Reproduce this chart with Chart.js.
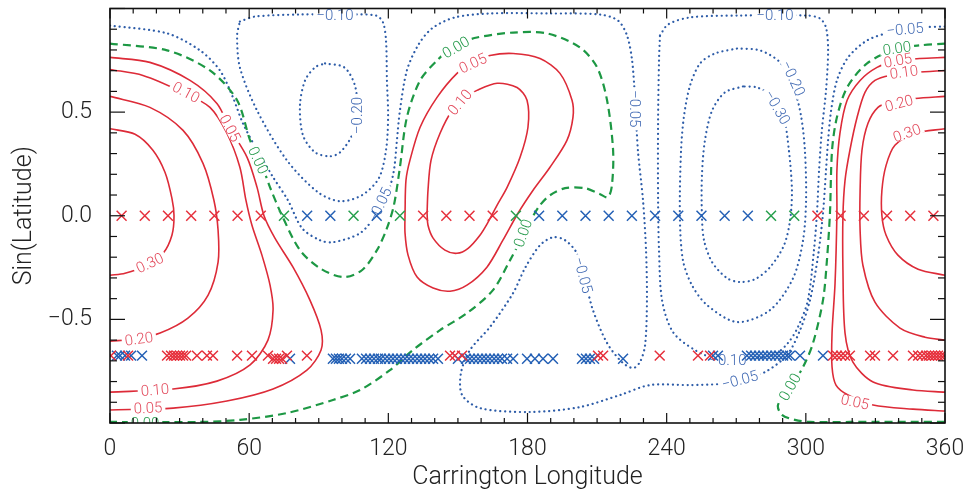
<!DOCTYPE html>
<html>
<head>
<meta charset="utf-8">
<script src="https://cdn.jsdelivr.net/npm/chart.js@4.4.0/dist/chart.umd.min.js"></script>
<style>
  html, body { margin: 0; padding: 0; background: #fff; }
</style>
</head>
<body>
<canvas id="myChart" width="967" height="493"></canvas>
<script>
// axis ticks
const lonTicks = [0, 60, 120, 180, 240, 300, 360];
const latTicks = [-0.5, 0, 0.5];

// contour lines, points are [longitude, sin(latitude)]
// positive lobe at the left edge (wraps round to the right edge)
const c030L = [[0,0.42],[10.8,0.393],[18.5,0.316],[23.7,0.21],[26.7,0.084],[27.6,0],[26.7,-0.094],[22.9,-0.181],[15.1,-0.243],[6.5,-0.277],[0,-0.287]];
const c030R = [[360,0.42],[347.1,0.398],[338.4,0.34],[334.6,0.243],[332.8,0.123],[332.8,0],[334.6,-0.094],[339.7,-0.19],[348.4,-0.258],[360,-0.287]];
const c020L = [[0,0.576],[17.2,0.523],[31.5,0.412],[40.1,0.253],[44.8,0.075],[46.6,-0.07],[46.6,-0.224],[42.3,-0.383],[33.6,-0.494],[21.6,-0.566],[10.8,-0.595],[0,-0.605]];
const c020R = [[360,0.576],[347.1,0.566],[336.3,0.547],[331.1,0.523],[326.8,0.446],[324.2,0.316],[323.4,0.123],[323.4,-0.07],[324.6,-0.239],[329.8,-0.417],[340.6,-0.542],[351.4,-0.586],[360,-0.6]];
const c010L = [[0,0.706],[14.2,0.677],[31.5,0.595],[43.1,0.523],[50.4,0.398],[56,0.234],[58.6,0.075],[61.2,-0.046],[65.5,-0.19],[69,-0.335],[70.3,-0.455],[68.1,-0.6],[60.4,-0.72],[46.1,-0.798],[27.2,-0.836],[0,-0.851]];
const c010R = [[360,0.701],[347.9,0.692],[336.3,0.677],[329.8,0.653],[325.5,0.595],[322.1,0.475],[319,0.316],[316.9,0.171],[316,0],[316,-0.263],[316.9,-0.566],[320.3,-0.706],[329,-0.802],[346.2,-0.841],[360,-0.851]];
const c005L = [[0,0.764],[17.2,0.74],[34.5,0.653],[46.1,0.542],[51.7,0.422],[59.1,0.282],[63.4,0.137],[66.4,0],[71.1,-0.108],[78.9,-0.248],[86.2,-0.407],[91,-0.552],[91,-0.648],[84.9,-0.745],[70.3,-0.836],[50.4,-0.894],[27.2,-0.928],[0,-0.937]];
const c005R = [[360,0.764],[349.2,0.759],[338.4,0.745],[330.7,0.716],[323.4,0.653],[317.8,0.557],[314.7,0.398],[313.4,0.219],[313.4,0.012],[312.6,-0.325],[311.3,-0.566],[311.3,-0.73],[313,-0.817],[318.2,-0.865],[329,-0.913],[346.2,-0.933],[360,-0.942]];

// positive lobe in the middle
const c005M = [[127.2,0.012],[127.6,0.171],[129.3,0.267],[133.7,0.427],[141,0.571],[149.6,0.687],[156.5,0.74],[163.8,0.773],[173.8,0.783],[185.4,0.759],[194,0.687],[199.2,0.557],[199.6,0.475],[197,0.364],[189.7,0.234],[182.4,0.123],[175.9,0.012],[169.4,-0.118],[162.5,-0.248],[153.9,-0.335],[146.6,-0.364],[139.3,-0.349],[132.4,-0.296],[128.5,-0.19],[127.2,-0.084],[127.2,0.012]];
const c010M = [[136.7,0.012],[137.1,0.123],[138.4,0.267],[142.3,0.398],[147.5,0.508],[153.1,0.571],[158.2,0.605],[166.9,0.639],[175.5,0.619],[179.8,0.557],[180.2,0.427],[176.8,0.282],[171.2,0.137],[166.9,0.051],[163,-0.031],[159.5,-0.094],[154.4,-0.157],[149.6,-0.181],[144.4,-0.166],[139.3,-0.108],[137.1,-0.046],[136.7,0.012]];

// zero lines
const c000A = [[0,0.831],[24.6,0.798],[43.1,0.701],[54.8,0.557],[60.4,0.364],[65.5,0.243],[69,0.137],[74.2,0],[81.9,-0.166],[90.5,-0.253],[100.5,-0.296],[108.6,-0.263],[115.1,-0.166],[119.4,-0.06],[122.4,0.051],[125,0.234],[128,0.475],[133.7,0.653],[141,0.749],[148.7,0.822],[158.2,0.86],[173.8,0.884],[188.4,0.88],[202.6,0.812],[210,0.716],[214.3,0.557],[216.9,0.316],[216.4,0.147],[214.7,0.089],[211.3,0.104],[204.8,0.133],[196.2,0.133],[189.7,0.099],[185.4,0.051],[181.9,-0.012],[178.1,-0.094],[172.5,-0.214],[165.1,-0.359],[153.9,-0.47],[142.3,-0.552],[130.6,-0.648],[120.7,-0.745],[107.8,-0.841],[96.1,-0.889],[76.3,-0.952],[56,-0.985],[38.8,-0.995],[0,-0.995]];
const c000B = [[360,0.831],[349.2,0.822],[339.3,0.807],[326.4,0.735],[317.8,0.619],[313.4,0.475],[311.3,0.316],[310.4,0.012],[309.1,-0.214],[307.4,-0.407],[303.1,-0.614],[298.8,-0.73],[293.2,-0.831],[288,-0.913],[289.7,-0.961],[295.3,-0.985],[301.8,-0.995],[319,-0.995],[360,-0.995]];

// negative regions
const c005nA = [[0,0.918],[24.6,0.88],[38.8,0.798],[47.4,0.701],[53,0.571],[57.3,0.446],[63.4,0.316],[70.3,0.186],[76.7,0.075],[82.8,-0.06],[90.5,-0.118],[96.1,-0.128],[107.8,-0.084],[115.1,0.012],[119.9,0.113],[122.4,0.219],[123.7,0.364],[125,0.508],[128,0.701],[132.8,0.822],[138.8,0.904],[148.7,0.957],[163.8,0.976],[189.7,0.976],[211.3,0.971],[219,0.942],[222.9,0.87],[225.1,0.749],[226.4,0.557],[227.6,0.316],[229.8,0.075],[231.1,-0.166],[231.5,-0.407],[230.7,-0.624],[228.5,-0.706],[225.5,-0.735],[220.7,-0.706],[214.3,-0.614],[208.2,-0.455],[204.8,-0.311],[201.3,-0.181],[196.2,-0.118],[191,-0.104],[185.4,-0.142],[178.9,-0.253],[173.8,-0.373],[163.8,-0.537],[155.2,-0.648],[151.3,-0.759],[151.8,-0.865],[159.5,-0.928],[181.1,-0.947],[202.6,-0.923],[219.9,-0.865],[232.8,-0.817],[250.1,-0.817],[263,-0.812],[271.6,-0.798],[282.4,-0.754],[291.9,-0.672],[297.5,-0.552],[301.8,-0.407],[305.3,-0.19],[307.4,0.012],[308.7,0.219],[309.6,0.364],[310.9,0.508],[313.4,0.653],[318.2,0.764],[326.4,0.846],[336.3,0.884],[349.2,0.908],[360,0.913]];
const c010nL = [[56,0.937],[62.5,0.961],[81.9,0.971],[103.5,0.971],[114.7,0.966],[117.7,0.933],[119,0.846],[119.4,0.653],[119.9,0.475],[119,0.316],[115.9,0.181],[108.6,0.099],[99.2,0.07],[89.7,0.113],[76.3,0.267],[63.4,0.508],[56,0.716],[54.8,0.87],[56,0.937]];
const c020nL = [[92.7,0.735],[101,0.716],[105.6,0.629],[106.5,0.508],[104.3,0.388],[99.2,0.306],[94.9,0.287],[88.4,0.306],[83.2,0.388],[81.9,0.533],[84.1,0.653],[88.4,0.716],[92.7,0.735]];
const c010nR = [[237.1,0.87],[240.6,0.923],[250.1,0.957],[271.6,0.966],[300.5,0.966],[306.1,0.952],[308.7,0.908],[309.6,0.798],[308.7,0.605],[306.9,0.412],[305.7,0.219],[304.8,0.012],[303.5,-0.166],[300.9,-0.407],[296.6,-0.537],[292.3,-0.614],[286.7,-0.667],[273.8,-0.692],[263,-0.696],[252.2,-0.648],[242.7,-0.561],[238,-0.407],[236.7,-0.166],[236.3,0.075],[236.3,0.46],[236.7,0.749],[237.1,0.87]];
const c020nR = [[270.3,0.807],[260.8,0.783],[254.4,0.735],[250.1,0.629],[247.5,0.484],[246.2,0.316],[245.7,0],[247,-0.214],[250.9,-0.335],[257.4,-0.431],[270.3,-0.513],[284.6,-0.455],[294.5,-0.301],[298.8,-0.118],[300.1,0.075],[299.6,0.316],[297.9,0.484],[294.5,0.629],[288.9,0.74],[280.2,0.798],[270.3,0.807]];
const c030nR = [[272.9,0.624],[265.1,0.595],[259.6,0.508],[256.5,0.364],[255.2,0.195],[255.2,0],[256.1,-0.118],[259.6,-0.224],[266,-0.301],[271.6,-0.32],[278.1,-0.306],[284.6,-0.248],[290.6,-0.142],[293.2,-0.022],[294,0.123],[292.7,0.316],[290.2,0.484],[284.6,0.581],[279,0.619],[272.9,0.624]];

const contourLines = [
  { level: 0.30, pts: c030L }, { level: 0.30, pts: c030R },
  { level: 0.20, pts: c020L }, { level: 0.20, pts: c020R },
  { level: 0.10, pts: c010L }, { level: 0.10, pts: c010R },
  { level: 0.05, pts: c005L }, { level: 0.05, pts: c005R },
  { level: 0.05, pts: c005M }, { level: 0.10, pts: c010M },
  { level: 0.00, pts: c000A }, { level: 0.00, pts: c000B },
  { level: -0.05, pts: c005nA },
  { level: -0.10, pts: c010nL }, { level: -0.20, pts: c020nL },
  { level: -0.10, pts: c010nR }, { level: -0.20, pts: c020nR }, { level: -0.30, pts: c030nR }
];

// inline level labels: text, lon, sin(lat), angle in degrees
const contourLabels = [
  ['0.10', 32.8, 0.595, 28], ['0.05', 51.7, 0.422, 62], ['0.00', 63.8, 0.267, 65],
  ['0.30', 17.2, -0.229, -25], ['0.20', 12.5, -0.595, -8], ['0.10', 19.4, -0.841, -5],
  ['0.05', 16.4, -0.928, -3], ['0.00', 15.1, -1.0, 0],
  ['0.05', 156.5, 0.735, -25], ['0.10', 150.9, 0.547, -50], ['0.00', 149.2, 0.812, -30],
  ['0.00', 178.1, -0.084, -70],
  ['0.05', 339.7, 0.749, -10], ['0.10', 342.3, 0.692, -8], ['0.20', 340.2, 0.542, -15],
  ['0.30', 343.6, 0.398, -20], ['0.05', 321.2, -0.899, 12],
  ['0.00', 339.3, 0.807, -8], ['0.00', 293.2, -0.827, -60],
  ['-0.10', 97.0, 0.966, 0], ['-0.20', 106.5, 0.484, -90], ['-0.05', 116.4, 0.051, -65],
  ['-0.05', 226.4, 0.516, 90], ['-0.05', 203.9, -0.287, 75],
  ['-0.10', 286.7, 0.966, 0], ['-0.20', 294.5, 0.663, 65], ['-0.30', 287.6, 0.523, 60],
  ['-0.05', 342.8, 0.899, -5], ['-0.05', 271.6, -0.793, -15], ['-0.10', 266.4, -0.696, 0]
];

// spot positions along the equator
const eqLat = 0;
const eqRedLon = [5,15,25,35,45,55,65,135,145,155,165,305,315,325,335,345,355];
const eqGreenLon = [75,105,125,175,285,295];
const eqBlueLon = [85,95,115,185,195,205,215,225,235,245,255,265,275];

// spot positions in the southern band
const southLatA = -0.675;
const southLatB = -0.69;
const southRedA = [0.4,7.8,24.6,26.3,27.6,28.9,30.2,31.5,32.8,37.5,41.8,44.4,54.8,61.2,68.1,76.3,84.9,146.6,148.7,151.8,210.4,212.6,237,253.5,258.7,311.7,313.4,315.2,316.9,319,327.7,329.8,337.6,346.2,348.4,350.1,351.8,353.1,354.4,355.7,357,358.3,359.6];
const southRedB = [70.3,71.6,72.9,74.2];
const southBlueA = [3,4.3,6.5,9.1,13.8,260,262.1,274.6,276.4,278.1,279.8,281.6,283.3,285,286.8,288.4,290.2,291.9,293.2,297.5,307.4];
const southBlueB = [77.6,96.1,97.4,98.7,100,101.7,103.5,108.6,110.4,112.1,113.8,115.5,116.8,118.6,120.3,122,123.7,125.5,127.2,128.9,130.6,132.4,134.1,135.8,137.6,139.3,141.4,150,153.5,155.2,156.9,158.7,160.4,162.1,163.8,165.6,167.3,169,171.2,173.8,179.8,183.2,186.7,191,203.5,205.2,206.9,208.7,221.2];

const RED = '#dd2b38', BLUE = '#2d5ca8', GREEN = '#1d9844';
const RED_TXT = '#e2485a', BLUE_TXT = '#4069b3', GREEN_TXT = '#24994a';
const MK_RED = '#e6303c', MK_BLUE = '#2460b5', MK_GREEN = '#27a04d';
const FONT = 'Roboto';

function lineStyle(level) {
  if (level > 0) return { borderColor: RED, borderWidth: 1.6, borderDash: [], borderCapStyle: 'butt' };
  if (level === 0) return { borderColor: GREEN, borderWidth: 2.2, borderDash: [8, 5], borderCapStyle: 'butt' };
  return { borderColor: BLUE, borderWidth: 2.2, borderDash: [0.1, 4.8], borderCapStyle: 'round' };
}

const datasets = [];
contourLines.forEach(c => {
  datasets.push(Object.assign({
    data: c.pts.map(p => ({ x: p[0], y: p[1] })),
    showLine: true, fill: false, pointRadius: 0, tension: 0.3, order: 1
  }, lineStyle(c.level)));
});

function spots(lons, lat, color) {
  return {
    data: lons.map(v => ({ x: v, y: lat })),
    showLine: false, pointStyle: 'crossRot', pointRadius: 7,
    pointBorderColor: color, pointBackgroundColor: color, pointBorderWidth: 1.5,
    order: 0, isMarker: true
  };
}
datasets.push(spots(eqRedLon, eqLat, MK_RED));
datasets.push(spots(eqGreenLon, eqLat, MK_GREEN));
datasets.push(spots(eqBlueLon, eqLat, MK_BLUE));
datasets.push(spots(southRedA, southLatA, MK_RED));
datasets.push(spots(southRedB, southLatB, MK_RED));
datasets.push(spots(southBlueA, southLatA, MK_BLUE));
datasets.push(spots(southBlueB, southLatB, MK_BLUE));

function fmtLat(v) {
  if (v === 0) return '0.0';
  return (v < 0 ? '\u2212' : '') + Math.abs(v).toFixed(1);
}

let labelsDone = false;

function drawContourLabels(chart) {
  const { ctx, chartArea: a, scales: { x, y } } = chart;
  ctx.save();
  ctx.beginPath();
  ctx.rect(a.left, a.top, a.right - a.left, a.bottom - a.top);
  ctx.clip();
  ctx.font = '300 15px ' + FONT;
  ctx.textAlign = 'center';
  ctx.textBaseline = 'middle';
  contourLabels.forEach(l => {
    const txt = l[0].replace('-', '\u2212');
    const v = parseFloat(l[0]);
    const col = v > 0 ? RED_TXT : (v < 0 ? BLUE_TXT : GREEN_TXT);
    ctx.save();
    ctx.translate(x.getPixelForValue(l[1]), y.getPixelForValue(l[2]));
    ctx.rotate(l[3] * Math.PI / 180);
    const w = ctx.measureText(txt).width;
    ctx.fillStyle = '#fff';
    ctx.fillRect(-w / 2 - 3, -5, w + 6, 10);
    ctx.fillStyle = col;
    ctx.fillText(txt, 0, 1);
    ctx.restore();
  });
  ctx.restore();
}

function drawFrame(chart) {
  const { ctx, chartArea: a, scales: { x, y } } = chart;
  const seg = (x1, y1, x2, y2) => { ctx.beginPath(); ctx.moveTo(x1, y1); ctx.lineTo(x2, y2); ctx.stroke(); };
  ctx.save();
  ctx.strokeStyle = '#111';
  ctx.lineWidth = 1.2;
  for (let i = 0; i <= 36; i++) {
    const px = x.getPixelForValue(i * 10);
    const len = i % 6 === 0 ? 10 : 5;
    seg(px, a.bottom, px, a.bottom - len);
    seg(px, a.top, px, a.top + len);
  }
  for (let i = -10; i <= 10; i++) {
    const py = y.getPixelForValue(i / 10);
    const len = i % 5 === 0 ? 15 : 7;
    seg(a.left, py, a.left + len, py);
    seg(a.right, py, a.right - len, py);
  }
  ctx.lineWidth = 1.6;
  ctx.strokeRect(a.left, a.top, a.right - a.left, a.bottom - a.top);
  ctx.restore();
}

const framePlugin = {
  id: 'frame',
  beforeDraw() { labelsDone = false; },
  beforeDatasetDraw(chart, args) {
    const ds = chart.data.datasets[args.index];
    if (ds.isMarker && !labelsDone) {
      drawContourLabels(chart);
      labelsDone = true;
    }
  },
  afterDatasetsDraw(chart) { drawFrame(chart); }
};

// keep the plot box fixed: no extra room for edge tick labels
function noEdgePadding(s) {
  s.paddingTop = 0; s.paddingBottom = 0; s.paddingLeft = 0; s.paddingRight = 0;
}

const ctx = document.getElementById('myChart').getContext('2d');
const myChart = new Chart(ctx, {
  type: 'scatter',
  data: { datasets: datasets },
  options: {
    responsive: false,
    animation: false,
    devicePixelRatio: 1,
    events: [],
    layout: { padding: { top: 8, right: 22, left: 0, bottom: 0 } },
    plugins: { legend: { display: false }, tooltip: { enabled: false } },
    scales: {
      x: {
        type: 'linear', min: 0, max: 360, position: 'bottom',
        afterFit: s => { s.height = 70; noEdgePadding(s); },
        afterBuildTicks: s => { s.ticks = lonTicks.map(v => ({ value: v })); },
        grid: { display: false, drawTicks: false },
        border: { display: false },
        ticks: {
          padding: 12, autoSkip: false, maxRotation: 0, color: '#222',
          font: { family: FONT, size: 23, weight: '300' },
          callback: v => String(v)
        },
        title: {
          display: true, text: 'Carrington Longitude', color: '#222',
          font: { family: FONT, size: 25, weight: '300' },
          padding: { top: 0, bottom: 0 }
        }
      },
      y: {
        type: 'linear', min: -1, max: 1, position: 'left',
        afterFit: s => { s.width = 110; noEdgePadding(s); },
        afterBuildTicks: s => { s.ticks = latTicks.map(v => ({ value: v })); },
        grid: { display: false, drawTicks: false },
        border: { display: false },
        ticks: {
          padding: 18, color: '#222',
          font: { family: FONT, size: 23, weight: '300' },
          callback: v => fmtLat(v)
        },
        title: {
          display: true, text: 'Sin(Latitude)', color: '#222',
          font: { family: FONT, size: 25, weight: '300' },
          padding: { top: 10, bottom: 0 }
        }
      }
    }
  },
  plugins: [framePlugin]
});
</script>
</body>
</html>
